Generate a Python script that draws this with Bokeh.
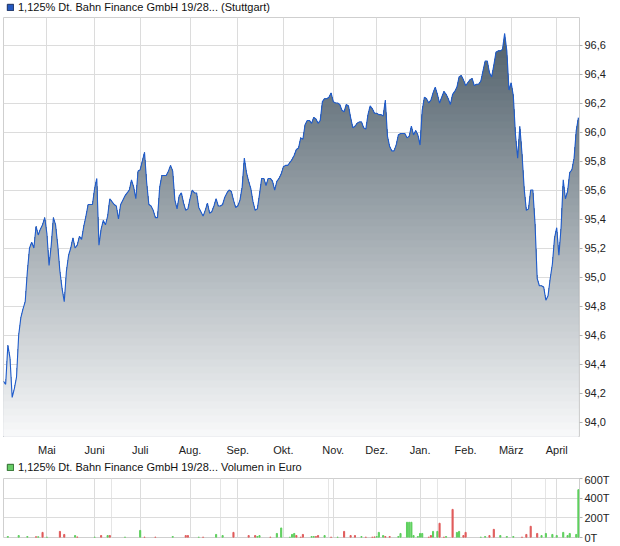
import numpy as np
from bokeh.plotting import figure
from bokeh.layouts import column
from bokeh.models import (Range1d, FixedTicker, CustomJSTickFormatter, Legend,
                          LegendItem, Grid, ColumnDataSource)
from bokeh.transform import factor_cmap
from bokeh.embed import file_html
from bokeh.resources import INLINE

# ---------------- data ----------------
price = [
    94.28, 94.26, 94.53, 94.44, 94.17, 94.23, 94.31, 94.60, 94.72, 94.78,
    94.83, 95.04, 95.20, 95.24, 95.20, 95.35, 95.29, 95.33, 95.36, 95.41,
    95.30, 95.08, 95.22, 95.41, 95.36, 95.22, 95.04, 94.92, 94.83, 95.04,
    95.15, 95.20, 95.27, 95.20, 95.22, 95.28, 95.26, 95.35, 95.42, 95.50,
    95.50, 95.50, 95.61, 95.68, 95.22, 95.33, 95.39, 95.36, 95.42, 95.54,
    95.52, 95.50, 95.49, 95.40, 95.50, 95.53, 95.56, 95.58, 95.60, 95.67,
    95.62, 95.54, 95.73, 95.74, 95.80, 95.86, 95.65, 95.50, 95.49, 95.46,
    95.41, 95.41, 95.62, 95.70, 95.70, 95.70, 95.73, 95.77, 95.73, 95.53,
    95.47, 95.56, 95.58, 95.51, 95.46, 95.47, 95.54, 95.60, 95.58, 95.58,
    95.48, 95.45, 95.42, 95.46, 95.51, 95.44, 95.45, 95.49, 95.54, 95.49,
    95.49, 95.50, 95.55, 95.58, 95.60, 95.59, 95.53, 95.48, 95.49, 95.53,
    95.62, 95.82, 95.72, 95.66, 95.61, 95.52, 95.46, 95.47, 95.57, 95.68,
    95.68, 95.63, 95.68, 95.68, 95.66, 95.60, 95.66, 95.68, 95.71, 95.76,
    95.77, 95.77, 95.79, 95.81, 95.84, 95.88, 95.89, 95.96, 95.95, 96.05,
    96.08, 96.08, 96.06, 96.10, 96.09, 96.06, 96.08, 96.21, 96.23, 96.23,
    96.24, 96.27, 96.21, 96.20, 96.20, 96.19, 96.15, 96.14, 96.19, 96.18,
    96.10, 96.03, 96.04, 96.06, 96.07, 96.07, 96.03, 96.02, 96.12, 96.18,
    96.16, 96.13, 96.13, 96.12, 96.12, 96.11, 96.22, 95.97, 95.90, 95.87,
    95.87, 95.91, 95.98, 95.99, 95.99, 95.99, 95.96, 95.97, 96.04, 95.98,
    96.01, 95.98, 95.91, 96.15, 96.24, 96.23, 96.20, 96.22, 96.27, 96.31,
    96.26, 96.20, 96.24, 96.28, 96.26, 96.23, 96.19, 96.26, 96.28, 96.31,
    96.38, 96.39, 96.36, 96.32, 96.34, 96.36, 96.37, 96.32, 96.33, 96.33,
    96.35, 96.42, 96.49, 96.49, 96.41, 96.38, 96.46, 96.55, 96.56, 96.56,
    96.57, 96.68, 96.56, 96.29, 96.34, 96.25, 95.98, 95.82, 96.04, 95.85,
    95.61, 95.46, 95.47, 95.60, 95.60, 95.37, 94.99, 94.94, 94.94, 94.93,
    94.84, 94.87, 94.99, 95.09, 95.27, 95.34, 95.15, 95.34, 95.67, 95.54,
    95.59, 95.72, 95.74, 95.82, 96.01, 96.10,
]
day = list(range(len(price)))   # trading-day index

month_pos = [20, 42, 63, 86, 108, 129, 152, 172, 192, 213, 234, 255]
month_names = ["Mai", "Juni", "Juli", "Aug.", "Sep.", "Okt.", "Nov.", "Dez.",
               "Jan.", "Feb.", "März", "April"]
price_ticks = [94.0, 94.2, 94.4, 94.6, 94.8, 95.0, 95.2, 95.4, 95.6, 95.8,
               96.0, 96.2, 96.4, 96.6]

vol_day = [2, 7, 11, 15, 16, 18, 20, 26, 28, 33, 34, 42, 45, 48, 49, 56, 63,
           65, 70, 78, 84, 85, 90, 92, 98, 101, 106, 113, 116, 117, 118, 123,
           126, 128, 132, 133, 134, 135, 137, 138, 142, 143, 144, 145, 148,
           151, 154, 157, 160, 162, 165, 167, 170, 171, 172, 173, 175, 176,
           178, 182, 183, 186, 187, 188, 189, 191, 192, 193, 196, 197, 198,
           200, 201, 203, 204, 207, 209, 210, 212, 213, 220, 222, 224, 226,
           229, 232, 235, 239, 241, 243, 246, 248, 250, 253, 255, 258, 260,
           261, 264, 265]
vol_k = [10, 20, 10, 8, 8, 52, 4, 62, 31, 20, 6, 4, 20, 20, 20, 4, 72,
         4, 4, 10, 20, 20, 4, 4, 31, 20, 52, 20, 20, 10, 20, 4,
         41, 97, 4, 31, 41, 20, 4, 31, 10, 10, 10, 20, 20,
         4, 4, 62, 20, 20, 10, 4, 4, 6, 10, 52, 20, 10,
         10, 10, 41, 155, 155, 155, 20, 10, 41, 41, 4, 20, 62,
         62, 145, 4, 10, 286, 52, 62, 20, 52, 4, 10, 20, 83,
         20, 10, 10, 4, 31, 114, 41, 20, 41, 31, 20, 52, 20,
         41, 31, 486]
vol_dir = ["up", "up", "up", "down", "up", "down", "up", "down", "down", "up",
           "down", "up", "down", "up", "down", "up", "up", "down", "down", "up",
           "down", "down", "up", "down", "up", "up", "down", "down", "down", "up",
           "up", "down", "up", "up", "up", "up", "up", "down", "down", "down",
           "up", "up", "down", "down", "up", "down", "up", "down", "down", "down",
           "up", "down", "down", "down", "up", "up", "up", "down", "down", "up",
           "up", "up", "up", "up", "up", "up", "up", "up", "down", "down",
           "up", "up", "down", "down", "up", "down", "up", "up", "down", "down",
           "up", "up", "down", "down", "up", "up", "up", "down", "down", "down",
           "down", "up", "up", "up", "up", "up", "up", "up", "up", "up"]
vol_ticks = [0, 200, 400, 600]

price_label = "1,125% Dt. Bahn Finance GmbH 19/28... (Stuttgart)"
volume_label = "1,125% Dt. Bahn Finance GmbH 19/28... Volumen in Euro"

FONT = "Liberation Sans"
GRID = "#dcdcdc"


def style_right_axis(ax, ticks, code):
    ax.ticker = FixedTicker(ticks=ticks)
    ax.formatter = CustomJSTickFormatter(code=code)
    ax.axis_line_color = None
    ax.major_tick_in = 0
    ax.major_tick_out = 3
    ax.major_tick_line_color = "#b0b0b0"
    ax.minor_tick_line_color = None
    ax.major_label_standoff = 2
    ax.major_label_text_font = FONT
    ax.major_label_text_font_size = "11px"
    ax.major_label_text_color = "#222222"


def legend_row(label, xs, ys, fill, line, h, vy):
    """A thin strip holding a legend entry (kept inside its own frame)."""
    f = figure(width=620, height=h, x_range=Range1d(0, 1), y_range=Range1d(0, 1),
               x_axis_location=None, y_axis_location=None,
               toolbar_location=None, output_backend="svg", min_border=0)
    f.outline_line_color = None
    f.grid.visible = False
    f.border_fill_color = "white"
    r = f.rect(x=xs, y=ys, width=0, height=0, fill_color=fill,
               line_color=line, visible=False)
    f.add_layout(Legend(items=[LegendItem(label=label, renderers=[r])],
                        location=(3, vy), orientation="horizontal",
                        glyph_width=8, glyph_height=8, label_height=8,
                        label_standoff=4, padding=0, margin=0, spacing=0,
                        border_line_alpha=0, background_fill_alpha=0,
                        inactive_fill_alpha=0,
                        label_text_font=FONT, label_text_font_size="11px",
                        label_text_color="#111111"))
    return f


# ---------------- main price chart ----------------
y_lo, y_hi = 93.9, 96.79
p = figure(width=620, height=441,
           x_range=Range1d(0, 265.5), y_range=Range1d(y_lo, y_hi),
           y_axis_location="right", output_backend="svg",
           toolbar_location=None, min_border_left=3, min_border_right=41,
           min_border_top=0, min_border_bottom=18)
p.outline_line_color = "#cfcfcf"
p.background_fill_color = "white"
p.border_fill_color = "white"

# gradient area (painted as stacked bands, darkest at top)
c_top = np.array([78, 94, 105])
c_bot = np.array([248, 249, 250])
g_top, g_bot = 96.72, y_lo
pr = np.array(price)
nb = 60
levels = np.linspace(96.8, y_lo, nb, endpoint=False)
step = (96.8 - y_lo) / nb
for lev in levels:
    mid = lev - step / 2
    f = np.clip((g_top - mid) / (g_top - g_bot), 0, 1)
    c = (c_top + (c_bot - c_top) * f).round().astype(int)
    col = "#%02x%02x%02x" % tuple(c)
    p.varea(x=day, y1=y_lo, y2=np.minimum(pr, lev), fill_color=col)

p.line(day, price, line_color="#1f5ccc", line_width=1.1)

p.xgrid.ticker = FixedTicker(ticks=month_pos)
p.ygrid.ticker = FixedTicker(ticks=price_ticks)
for g in (p.xgrid, p.ygrid):
    g.grid_line_color = GRID
    g.grid_line_width = 1

xa = p.xaxis[0]
xa.ticker = FixedTicker(ticks=month_pos)
xa.major_label_overrides = {m: n for m, n in zip(month_pos, month_names)}
xa.axis_line_color = None
xa.major_tick_line_color = None
xa.minor_tick_line_color = None
xa.major_label_standoff = 1
xa.major_label_text_font = FONT
xa.major_label_text_font_size = "11px"
xa.major_label_text_color = "#222222"

style_right_axis(p.yaxis[0], price_ticks,
                 "return tick.toFixed(1).replace('.', ',');")

leg1 = legend_row(price_label, day, price, "#2458c0", "#1b2f5e", 17, 4)

# ---------------- volume chart ----------------
vsrc = ColumnDataSource(dict(day=vol_day, vol=vol_k, dir=vol_dir))
pv = figure(width=620, height=73, x_range=p.x_range,
            y_range=Range1d(0, 600), y_axis_location="right",
            x_axis_location=None, output_backend="svg", toolbar_location=None,
            min_border_left=3, min_border_right=41, min_border_top=5,
            min_border_bottom=9)
pv.outline_line_color = "#cfcfcf"
pv.background_fill_color = "white"
pv.border_fill_color = "white"

pv.add_layout(Grid(dimension=0, ticker=FixedTicker(ticks=month_pos),
                   grid_line_color=GRID, grid_line_width=1))
pv.ygrid.ticker = FixedTicker(ticks=vol_ticks)
pv.ygrid.grid_line_color = GRID

pv.vbar(x="day", top="vol", width=0.5, source=vsrc,
        color=factor_cmap("dir", ["#e05a5a", "#5ccf5c"], ["down", "up"]))

style_right_axis(pv.yaxis[0], vol_ticks, "return tick.toFixed(0) + 'T';")

leg2 = legend_row(volume_label, vol_day, vol_k, "#66cc66", "#2c6a2c", 15, 0)

layout = column(leg1, p, leg2, pv, spacing=0)
open("out.html", "w").write(file_html(layout, INLINE))
